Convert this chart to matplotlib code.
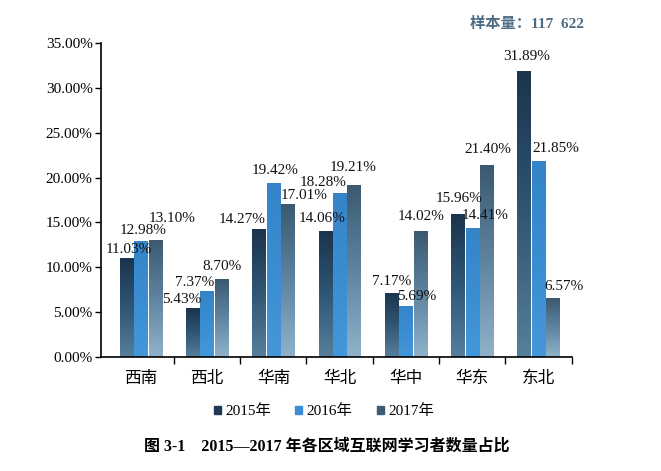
import numpy as np
import matplotlib
matplotlib.use("Agg")
import matplotlib.pyplot as plt
from matplotlib.colors import LinearSegmentedColormap

plt.rcParams['font.family'] = ['Liberation Serif', 'Noto Sans CJK SC', 'DejaVu Sans']

# data
regions = ["西南", "西北", "华南", "华北", "华中", "华东", "东北"]
years = ["2015年", "2016年", "2017年"]
v2015 = [11.03, 5.43, 14.27, 14.06, 7.17, 15.96, 31.89]
v2016 = [12.98, 7.37, 19.42, 18.28, 5.69, 14.41, 21.85]
v2017 = [13.10, 8.70, 17.01, 19.21, 14.02, 21.40, 6.57]
yticks = [0, 5, 10, 15, 20, 25, 30, 35]

# label offsets (pixels from bar top-centre), hand placed like the original
off2015 = [(2, 9), (-11, 9), (-17, 10), (-3, 12), (0, 11), (1, 15), (3, 14)]
off2016 = [(2, 10), (-12, 8), (2, 12), (-17, 11), (11, 9), (13, 12), (17, 13)]
off2017 = [(17, 21), (0, 12), (16, 9), (-1, 17), (1, 15), (1, 16), (11, 12)]

# colour stops: bottom, middle, top
grad2015 = ["#567f9c", "#2f5674", "#1b344d"]
grad2016 = ["#4497d8", "#3b8dd2", "#3584c8"]
grad2017 = ["#8fb2ca", "#5f84a0", "#3b5a72"]
legend_cols = ["#1f3a52", "#3b8dd2", "#3e5d74"]


def fill_gradient(ax, bars, stops):
    cmap = LinearSegmentedColormap.from_list("g", stops)
    grad = np.linspace(0, 1, 64).reshape(-1, 1)
    for b in bars:
        x, y = b.get_x(), b.get_y()
        w, h = b.get_width(), b.get_height()
        im = ax.imshow(grad, cmap=cmap, extent=[x, x + w, y, y + h],
                       origin="lower", aspect="auto", zorder=2)
        im.set_clip_path(b)
        b.set_facecolor("none")
        b.set_edgecolor("none")


fig = plt.figure(figsize=(6.61, 4.71), dpi=100)
ax = fig.add_axes([0.1528, 0.242, 0.712, 0.6666])

x = np.arange(len(regions))
bw = 0.2
step = 0.218
series = [(v2015, grad2015, off2015), (v2016, grad2016, off2016), (v2017, grad2017, off2017)]
handles = []
for k, (vals, stops, offs) in enumerate(series):
    pos = x + (k - 1) * step
    bars = ax.bar(pos, vals, width=bw, zorder=2)
    fill_gradient(ax, bars, stops)
    for xi, v, (dx, dy) in zip(pos, vals, offs):
        ax.annotate("%.2f%%" % v, (xi, v), xytext=(dx, dy),
                    textcoords="offset pixels", ha="center", va="center",
                    fontsize=11, color="#111111")
    handles.append(plt.Rectangle((0, 0), 1, 1, color=legend_cols[k]))

ax.set_xlim(-0.6, 6.5)
ax.set_ylim(0, 35)
ax.set_yticks(yticks)
ax.set_yticklabels(["%.2f%%" % t for t in yticks], fontsize=11)
ax.set_xticks(np.arange(1, len(regions) + 1) - 0.5, minor=False)
ax.set_xticklabels([])
ax.set_xticks(x, minor=True)
ax.set_xticklabels(regions, minor=True, fontsize=12)
ax.tick_params(axis="x", which="major", direction="out", length=5, width=1)
ax.tick_params(axis="x", which="minor", length=0, pad=10)
ax.tick_params(axis="y", direction="out", length=4, width=1, pad=2)
for s in ["top", "right"]:
    ax.spines[s].set_visible(False)
for s in ["left", "bottom"]:
    ax.spines[s].set_linewidth(1.2)

fig.legend(handles, years, loc="center", bbox_to_anchor=(0.49, 0.127),
           ncol=3, frameon=False, fontsize=11, handlelength=0.45,
           handleheight=0.45, handletextpad=0.3, columnspacing=1.6)

fig.text(0.495, 0.051, "图 3-1    2015—2017 年各区域互联网学习者数量占比",
         ha="center", va="center", fontsize=11.5, fontweight="bold")
fig.text(0.797, 0.949, "样本量：117  622", ha="center", va="center",
         fontsize=11, fontweight="bold", color="#4d6c86")

fig.savefig("out.png", dpi=100)
